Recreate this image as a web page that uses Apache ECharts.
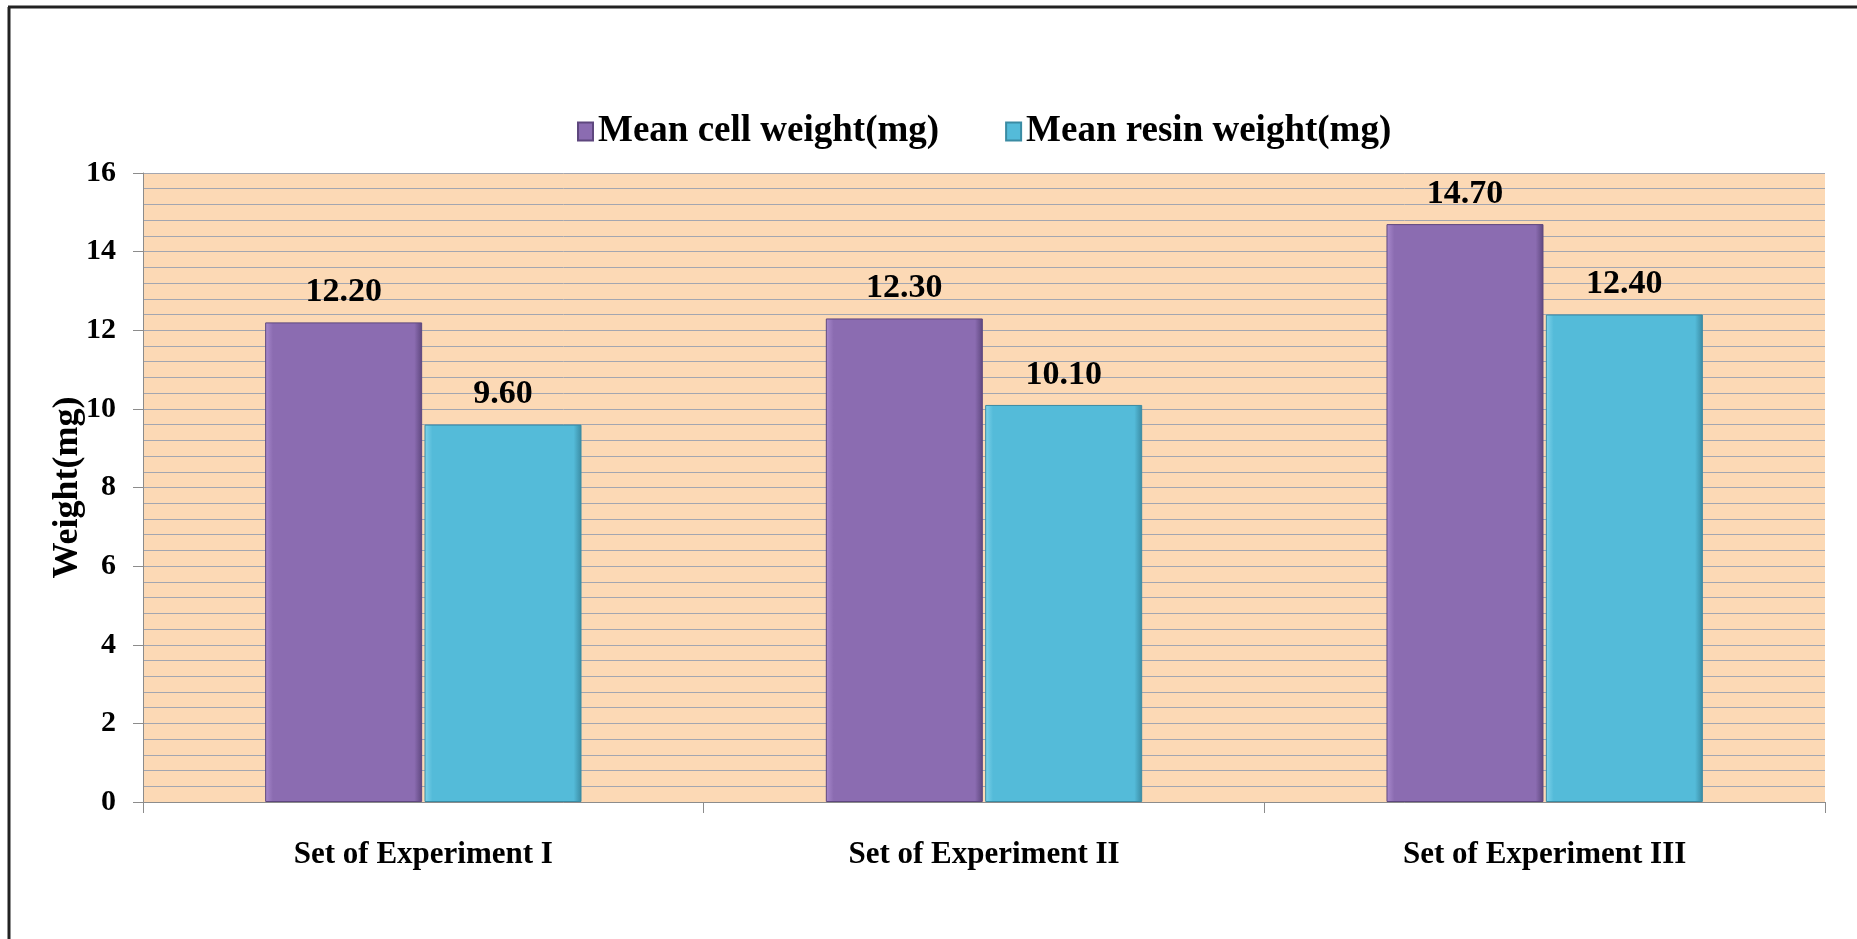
<!DOCTYPE html>
<html>
<head>
<meta charset="utf-8">
<script src="https://cdn.jsdelivr.net/npm/echarts@6/dist/echarts.min.js"></script>
<style>html,body{margin:0;padding:0;background:#fff;}#c{width:1857px;height:939px;}</style>
</head>
<body>
<div id="c"></div>
<script>
const categories = ['Set of Experiment I', 'Set of Experiment II', 'Set of Experiment III'];
const seriesNames = ['Mean cell weight(mg)', 'Mean resin weight(mg)'];
const cellWeight = [12.20, 12.30, 14.70];
const resinWeight = [9.60, 10.10, 12.40];
const yTicks = { min: 0, max: 16, interval: 2 };

const chart = echarts.init(document.getElementById('c'), null, { renderer: 'canvas' });
const serif = '"Liberation Serif", "DejaVu Serif", serif';

function barStyle(base, light, dark) {
  return {
    color: {
      type: 'linear', x: 0, y: 0, x2: 1, y2: 0,
      colorStops: [
        { offset: 0, color: light },
        { offset: 0.05, color: base },
        { offset: 0.95, color: base },
        { offset: 1, color: dark }
      ]
    },
    borderColor: dark,
    borderWidth: 1
  };
}

chart.setOption({
  backgroundColor: '#ffffff',
  animation: false,
  graphic: [
    { type: 'line', shape: { x1: 9, y1: 7, x2: 9, y2: 939 }, style: { stroke: '#222', lineWidth: 3 } },
    { type: 'line', shape: { x1: 8, y1: 7, x2: 1857, y2: 7 }, style: { stroke: '#222', lineWidth: 3 } }
  ],
  legend: {
    data: seriesNames,
    left: 572,
    top: 108,
    itemWidth: 15,
    itemHeight: 18,
    itemGap: 66,
    icon: 'rect',
    textStyle: { fontFamily: serif, fontWeight: 'bold', fontSize: 37, color: '#000' }
  },
  grid: {
    left: 143, right: 32, top: 173, bottom: 137,
    show: true, backgroundColor: '#FCD9B5', borderWidth: 0
  },
  xAxis: {
    type: 'category',
    data: categories,
    axisLine: { lineStyle: { color: '#8c8c8c', width: 1 } },
    axisTick: { show: true, length: 11, lineStyle: { color: '#8c8c8c' } },
    axisLabel: { margin: 37, fontFamily: serif, fontWeight: 'bold', fontSize: 31, color: '#000' },
    splitLine: { show: false }
  },
  yAxis: {
    type: 'value',
    min: yTicks.min, max: yTicks.max, interval: yTicks.interval,
    name: 'Weight(mg)',
    nameLocation: 'middle',
    nameGap: 57,
    nameMoveOverlap: false,
    nameTextStyle: { fontFamily: serif, fontWeight: 'bold', fontSize: 36, color: '#000' },
    axisLine: { show: true, lineStyle: { color: '#8c8c8c', width: 1 } },
    axisTick: { show: true, length: 10, lineStyle: { color: '#8c8c8c' } },
    axisLabel: { margin: 27, fontFamily: serif, fontWeight: 'bold', fontSize: 30, color: '#000' },
    splitLine: { show: true, lineStyle: { color: '#A3A6B0', width: 1 } },
    minorTick: { show: false, splitNumber: 5 },
    minorSplitLine: { show: true, lineStyle: { color: '#A3A6B0', width: 1 } }
  },
  series: [
    {
      name: seriesNames[0], type: 'bar', data: cellWeight,
      barWidth: 157, barGap: '1.5%',
      itemStyle: barStyle('#8B6CB1', '#A98ACD', '#5E477E'),
      label: { show: true, position: 'top', distance: 13, formatter: p => p.value.toFixed(2),
        fontFamily: serif, fontWeight: 'bold', fontSize: 34, color: '#000' }
    },
    {
      name: seriesNames[1], type: 'bar', data: resinWeight,
      barWidth: 157,
      itemStyle: barStyle('#54BBD9', '#7FD3EA', '#3A8BA3'),
      label: { show: true, position: 'top', distance: 13, formatter: p => p.value.toFixed(2),
        fontFamily: serif, fontWeight: 'bold', fontSize: 34, color: '#000' }
    }
  ]
});
</script>
</body>
</html>
